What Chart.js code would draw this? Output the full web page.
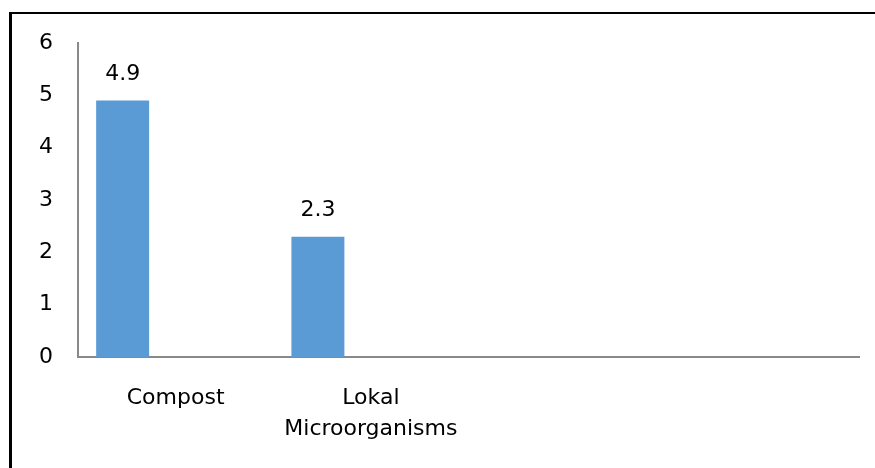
<!DOCTYPE html>
<html>
<head>
<meta charset="utf-8">
<script src="https://cdn.jsdelivr.net/npm/chart.js@4/dist/chart.umd.min.js"></script>
<style>
  html, body { margin: 0; padding: 0; background: #fff; }
  #wrap { position: relative; width: 875px; height: 468px; }
  #frame {
    position: absolute; left: 9px; top: 12px; right: 0; bottom: 0;
    border-top: 2px solid #000; border-left: 3px solid #000;
    pointer-events: none;
  }
  canvas { display: block; }
</style>
</head>
<body>
<div id="wrap">
  <canvas id="c" width="875" height="468"></canvas>
  <div id="frame"></div>
</div>
<script>
// Categories on the x axis (two trailing empty slots keep the spacing)
const categories = ['Compost', ['Lokal', 'Microorganisms'], '', ''];
// Series values; only the first series carries data
const series1 = [4.9, 2.3, null, null];
const series2 = [null, null, null, null];
const series3 = [null, null, null, null];
// Y axis tick values
const yTicks = [0, 1, 2, 3, 4, 5, 6];

const FONT = { family: '"DejaVu Sans", Verdana, sans-serif', size: 22, lineHeight: 1.4 };
const BAR = '#5B9BD5';
const AXIS = '#898989';

// Writes each bar's value above it
const valueLabels = {
  id: 'valueLabels',
  afterDatasetsDraw(chart) {
    const ctx = chart.ctx;
    const meta = chart.getDatasetMeta(0);
    const data = chart.data.datasets[0].data;
    ctx.save();
    ctx.font = `${FONT.size}px ${FONT.family}`;
    ctx.fillStyle = '#000';
    ctx.textAlign = 'center';
    ctx.textBaseline = 'middle';
    meta.data.forEach((bar, i) => {
      const v = data[i];
      if (v === null || v === undefined) return;
      ctx.fillText(v.toFixed(1), bar.x, bar.y - 26);
    });
    ctx.restore();
  }
};

new Chart(document.getElementById('c'), {
  type: 'bar',
  data: {
    labels: categories,
    datasets: [
      { label: 'Series 1', data: series1, backgroundColor: BAR },
      { label: 'Series 2', data: series2, backgroundColor: BAR },
      { label: 'Series 3', data: series3, backgroundColor: BAR }
    ]
  },
  options: {
    responsive: false,
    animation: false,
    devicePixelRatio: 1,
    layout: { padding: { left: 0, top: 43, right: 16, bottom: 0 } },
    datasets: { bar: { categoryPercentage: 0.814, barPercentage: 1 } },
    plugins: { legend: { display: false }, tooltip: { enabled: false } },
    scales: {
      x: {
        grid: { display: false, drawTicks: false },
        border: { display: true, color: AXIS, width: 2 },
        ticks: { color: '#000', font: FONT, padding: 26, autoSkip: false, maxRotation: 0 },
        afterFit(scale) { scale.height = 111; }
      },
      y: {
        min: yTicks[0],
        max: yTicks[yTicks.length - 1],
        grid: { display: false, drawTicks: false },
        border: { display: true, color: AXIS, width: 2 },
        ticks: {
          color: '#000', font: FONT, padding: 25, stepSize: 1,
          callback: (v) => yTicks.includes(v) ? String(v) : ''
        },
        afterFit(scale) { scale.width = 78; }
      }
    }
  },
  plugins: [valueLabels]
});
</script>
</body>
</html>
